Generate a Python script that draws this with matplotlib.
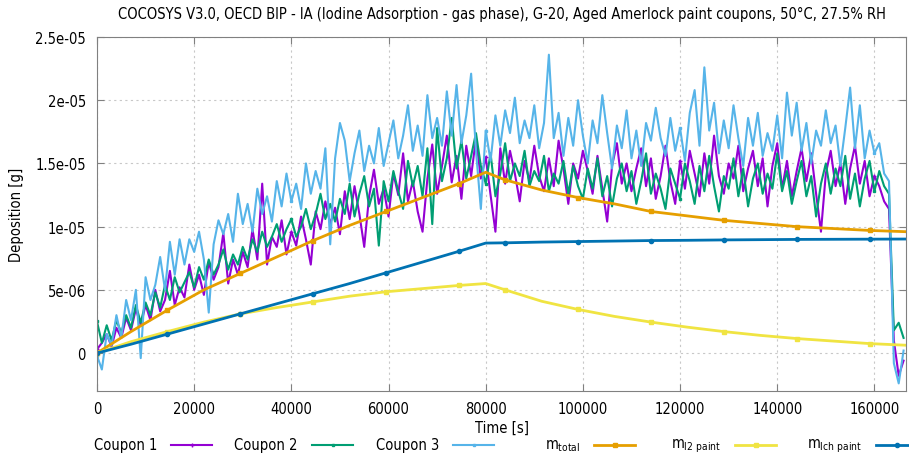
import numpy as np
import matplotlib.pyplot as plt
from matplotlib.lines import Line2D
from matplotlib.ticker import FixedLocator

plt.rcParams['font.family'] = ['DejaVu Sans']
plt.rcParams['font.stretch'] = 'condensed'
plt.rcParams['mathtext.fontset'] = 'custom'
plt.rcParams['mathtext.rm'] = 'DejaVu Sans:stretch=condensed'

# measured deposition on the coupons, sampled every 1000 s (values in 1e-6 g)
t_meas = np.arange(0, 167000, 1000)

coupon1 = [
    0.3, 0.8, 1.5, 0.5, 2.0, 1.2, 2.8, 1.8, 3.5, 2.2,
    3.8, 2.6, 5.0, 3.3, 4.2, 6.5, 3.8, 5.2, 4.4, 7.0,
    5.0, 6.2, 4.6, 7.2, 5.8, 6.8, 9.5, 5.5, 7.4, 6.2,
    8.0, 6.8, 9.8, 7.4, 13.4, 7.0, 9.2, 8.4, 10.5, 7.8,
    9.6, 8.5, 10.8, 9.0, 7.0, 11.2, 9.8, 12.0, 10.2, 11.5,
    9.4, 12.8, 10.6, 13.2, 11.0, 8.4, 12.4, 14.5, 11.8, 13.0,
    10.8, 14.2, 12.5, 15.8, 12.0, 13.6, 11.2, 9.6, 13.8, 16.5,
    12.6, 14.8, 17.2, 13.5, 15.6, 12.2, 16.4, 14.0, 17.0, 13.8,
    15.5, 12.5, 9.6, 16.2, 13.4, 16.0, 14.2, 12.0, 15.2, 13.6,
    16.4, 14.0, 12.8, 15.4, 13.2, 16.8, 14.6, 11.8, 15.0, 13.8,
    16.0, 14.4, 12.6, 15.6, 13.0, 10.4, 14.8, 16.6, 13.4, 15.0,
    12.8, 14.6, 16.2, 13.2, 15.4, 12.2, 14.0, 16.4, 13.6, 11.8,
    15.2, 13.0, 16.0, 14.2, 12.4, 15.8, 13.4, 17.2, 14.0, 12.6,
    15.0, 13.8, 16.4, 12.8, 14.6, 16.0, 13.2, 15.4, 11.6, 14.8,
    16.6, 13.0, 15.2, 12.4, 14.4, 16.2, 13.6, 15.8, 12.6, 9.6,
    14.2, 16.0, 13.2, 15.0, 11.8, 14.6, 16.4, 13.4, 15.2, 12.4,
    14.0, 13.2, 12.0, 11.4, 1.0, -1.8, -0.6,
]

coupon2 = [
    2.5, 0.8, 2.2, 1.0, 2.6, 1.6, 3.0, 2.0, 3.8, 2.4,
    4.0, 3.0, 4.8, 3.6, 5.4, 4.2, 6.0, 4.8, 5.6, 6.4,
    5.2, 6.8, 5.8, 7.4, 6.2, 7.0, 8.2, 6.6, 7.8, 7.0,
    8.4, 7.4, 9.0, 8.0, 9.6, 8.4, 9.2, 10.2, 8.8, 9.8,
    10.6, 9.2, 10.0, 11.4, 9.8, 11.0, 12.6, 10.6, 11.8, 10.4,
    12.2, 11.0, 13.4, 10.8, 12.6, 14.0, 11.6, 13.0, 8.5, 13.6,
    12.0, 14.4, 12.8, 11.4, 15.2, 13.2, 14.8, 12.4, 16.2, 10.2,
    17.8, 13.6, 15.4, 18.6, 14.6, 16.8, 13.8, 15.6, 17.4, 14.8,
    13.4, 15.8, 12.4, 14.2, 16.6, 13.6, 15.0, 14.0, 16.0, 13.2,
    14.4, 13.6, 15.6, 12.8, 14.2, 13.4, 15.2, 12.6, 14.8, 13.2,
    12.2, 14.6, 13.0, 15.4, 12.4, 14.0, 11.6, 13.8, 15.0, 12.8,
    14.4, 11.8, 13.6, 15.8, 12.6, 14.2, 13.0, 11.4, 14.6, 13.4,
    12.2, 15.0, 13.6, 11.8, 14.8, 12.8, 15.6, 13.2, 11.2, 14.0,
    13.0, 15.4, 12.4, 14.6, 11.6, 13.8, 15.0, 12.6, 14.2, 13.0,
    15.8, 12.8, 14.4, 11.8, 13.6, 15.2, 12.4, 14.0, 10.8, 13.4,
    15.0, 12.6, 14.6, 13.2, 15.6, 12.2, 14.2, 11.6, 13.8, 15.2,
    12.8, 14.4, 13.2, 12.6, 1.8, 2.4, 1.2,
]

coupon3 = [
    -0.2, -1.3, 1.5, 0.6, 3.0, 1.2, 4.2, 2.6, 5.0, -0.4,
    6.0, 4.2, 5.4, 7.6, 5.0, 8.8, 6.2, 9.0, 7.0, 9.0,
    8.0, 9.6, 7.4, 3.2, 8.6, 10.5, 9.4, 11.0, 8.8, 12.6,
    10.2, 11.8, 9.6, 13.0, 11.0, 12.4, 10.4, 13.6, 11.6, 14.2,
    12.0, 13.4, 11.4, 15.0, 12.6, 14.4, 13.0, 16.2, 8.6, 15.4,
    18.2, 16.8, 13.6, 15.8, 17.6, 14.4, 16.4, 15.0, 17.8, 14.8,
    16.6, 18.4, 15.4, 17.2, 19.6, 16.0, 18.0, 15.6, 20.4, 17.0,
    18.6, 16.4, 20.7, 17.2, 21.2, 16.6, 18.8, 22.1, 16.0, 11.4,
    17.6, 15.2, 18.8, 16.4, 19.2, 17.4, 20.2, 16.6, 18.4, 17.0,
    19.6, 16.2, 18.2, 23.6, 17.0, 19.0, 15.6, 18.6, 16.4, 20.0,
    17.2, 15.0, 18.4, 16.6, 20.4, 17.4, 14.6, 18.0, 16.2, 19.2,
    15.4, 17.6, 14.8, 18.2, 16.8, 19.4, 17.0, 15.6, 18.6, 16.0,
    17.8, 15.2, 19.0, 20.8, 16.4, 22.6, 17.6, 19.8, 15.8, 18.4,
    16.2, 19.6, 17.0, 14.8, 18.6, 16.4, 19.0, 15.6, 17.4, 16.0,
    18.8, 15.4, 20.6, 17.2, 19.8, 16.0, 18.2, 15.0, 17.6, 16.4,
    19.2, 16.6, 18.0, 14.8, 17.8, 21.0, 16.2, 19.6, 15.4, 17.6,
    15.8, 16.6, 14.2, 13.6, -0.8, -2.4, 0.2,
]

# COCOSYS model results (values in 1e-6 g)
t_model = [0, 7000, 14500, 22000, 29500, 37000, 44500, 52000, 59500, 67000, 74500, 80000,
           84000, 91500, 99000, 106500, 114000, 121500, 129000, 136500, 144000, 151500,
           159000, 166500]
m_total = [0, 1.7, 3.4, 5.0, 6.3, 7.6, 8.9, 10.1, 11.2, 12.3, 13.4, 14.3,
           13.7, 12.9, 12.3, 11.8, 11.2, 10.85, 10.5, 10.25, 10.0, 9.85, 9.7, 9.6]
m_i2_paint = [0, 0.9, 1.7, 2.45, 3.1, 3.6, 4.05, 4.5, 4.85, 5.1, 5.35, 5.5,
              5.0, 4.1, 3.45, 2.9, 2.45, 2.05, 1.7, 1.4, 1.15, 0.95, 0.75, 0.62]
m_ich_paint = [0, 0.7, 1.5, 2.3, 3.1, 3.9, 4.7, 5.5, 6.35, 7.2, 8.05, 8.7,
               8.72, 8.78, 8.82, 8.86, 8.9, 8.92, 8.95, 8.97, 8.99, 9.0, 9.01, 9.02]

xticks = [0, 20000, 40000, 60000, 80000, 100000, 120000, 140000, 160000]
yticks = [0, 5e-06, 1e-05, 1.5e-05, 2e-05, 2.5e-05]
ytick_labels = ['0', '5e-06', '1e-05', '1.5e-05', '2e-05', '2.5e-05']

scale = 1e-6
W, H = 909, 456

fig = plt.figure(figsize=(W / 100, H / 100), dpi=100)
ax = fig.add_axes([97 / W, 1 - 392 / H, 809 / W, 354 / H])

lines = []
lines += ax.plot(t_meas, np.array(coupon1) * scale, color='#9400d3', lw=1.5, marker='+',
                 ms=3, markevery=40, label='Coupon 1')
lines += ax.plot(t_meas, np.array(coupon2) * scale, color='#009e73', lw=1.5, marker='s',
                 ms=2, markevery=40, label='Coupon 2')
lines += ax.plot(t_meas, np.array(coupon3) * scale, color='#56b4e9', lw=1.5, marker='s',
                 ms=2, markevery=40, label='Coupon 3')
lines += ax.plot(t_model, np.array(m_total) * scale, color='#e69f00', lw=2, marker='s',
                 ms=3, markevery=2, label=r'm$_{\mathrm{total}}$')
lines += ax.plot(t_model, np.array(m_i2_paint) * scale, color='#f0e442', lw=2, marker='s',
                 ms=3, markevery=2, label=r'm$_{\mathrm{I2\ paint}}$')
lines += ax.plot(t_model, np.array(m_ich_paint) * scale, color='#0072b2', lw=2, marker='o',
                 ms=3, markevery=2, label=r'm$_{\mathrm{Ich\ paint}}$')

ax.set_xlim(0, 166500)
ax.set_ylim(-3e-06, 2.5e-05)
ax.xaxis.set_major_locator(FixedLocator(xticks))
ax.set_xticklabels([str(v) for v in xticks])
ax.set_yticks(yticks)
ax.set_yticklabels(ytick_labels)
ax.tick_params(direction='in', top=True, right=True, length=5, color='#808080',
               labelsize=10.5)
ax.tick_params(axis='x', pad=7)
ax.tick_params(axis='y', pad=8)
for s in ax.spines.values():
    s.set_color('#808080')
ax.grid(True, color='#c8c8c8', linestyle=(0, (2, 3)), lw=0.8)

ax.set_title('COCOSYS V3.0, OECD BIP - IA (Iodine Adsorption - gas phase), G-20, '
             'Aged Amerlock paint coupons, 50°C, 27.5% RH', fontsize=10.5, pad=14)
ax.set_xlabel('Time [s]', fontsize=10.5, labelpad=3)
ax.set_ylabel('Deposition [g]', fontsize=10.5, labelpad=8)

# gnuplot-like key below the plot: right-justified text followed by the line sample
key_y = 1 - 446 / H
for i, ln in enumerate(lines):
    x0 = (171 + 141 * i) / W
    x1 = x0 + 41 / W
    fig.text(x0 - 14 / W, key_y, ln.get_label(), ha='right', va='center', fontsize=10.5)
    fig.add_artist(Line2D([x0, (x0 + x1) / 2, x1], [key_y] * 3, transform=fig.transFigure,
                          color=ln.get_color(), lw=ln.get_linewidth(),
                          marker=ln.get_marker(), ms=ln.get_markersize(), markevery=[1],
                          clip_on=False))

fig.savefig('out.png', dpi=100)
